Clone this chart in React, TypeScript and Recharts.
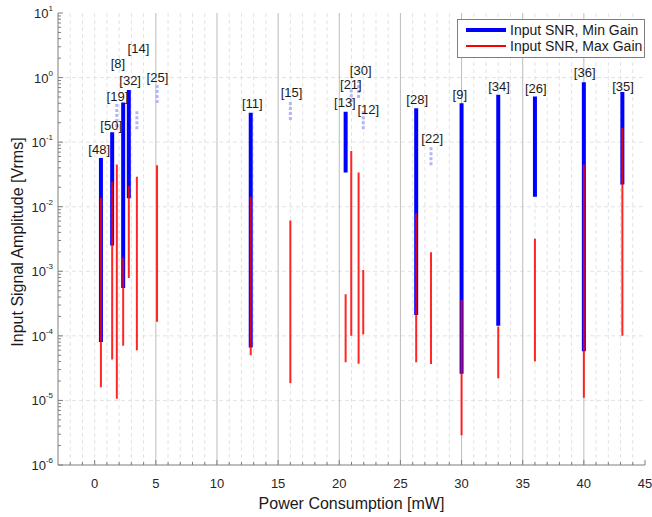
import React from 'react';
import {
  ComposedChart,
  Line,
  Scatter,
  XAxis,
  YAxis,
  CartesianGrid,
  Legend,
} from 'recharts';

const FONT = '"Liberation Sans", Arial, sans-serif';

// axis ticks
const xTicksMajor = [0, 5, 10, 15, 20, 25, 30, 35, 40, 45];
const yTicksMajor = [1e-6, 1e-5, 1e-4, 1e-3, 1e-2, 1e-1, 1, 10];
const yTickLabels = ['-6', '-5', '-4', '-3', '-2', '-1', '0', '1'];

// Input SNR, Min Gain (blue)
const minGainX = [0.51, 1.43, 2.33, 2.79, 12.76, 20.52, 26.29, 30.0, 33.0, 36.0, 40.0, 43.15];
const minGainHi = [0.057, 0.142, 0.41, 0.64, 0.286, 0.296, 0.334, 0.4, 0.54, 0.51, 0.845, 0.6];
const minGainLo = [8e-5, 2.5e-3, 5.5e-4, 0.0135, 6.6e-5, 0.034, 2.1e-4, 2.6e-5, 1.43e-4, 0.0143, 5.8e-5, 0.022];

// Input SNR, Max Gain (red)
const maxGainX = [0.51, 1.43, 1.81, 2.33, 2.79, 3.45, 5.1, 12.76, 16.0, 20.52, 20.98, 21.58, 21.96, 26.29, 27.5, 30.0, 33.0, 36.0, 40.0, 43.15];
const maxGainHi = [0.0136, 0.0244, 0.045, 1.6e-3, 0.021, 0.029, 0.044, 0.0143, 6.1e-3, 4.4e-4, 0.073, 0.034, 1.05e-3, 7.9e-3, 1.97e-3, 3.6e-4, 1.4e-4, 3.2e-3, 0.045, 0.167];
const maxGainLo = [1.6e-5, 4.3e-5, 1.06e-5, 7e-5, 7.9e-4, 6e-5, 1.66e-4, 5e-5, 1.84e-5, 3.9e-5, 1e-4, 3.7e-5, 1.05e-4, 3.9e-5, 3.66e-5, 2.9e-6, 2.2e-5, 4e-5, 1.1e-5, 1e-4];

// estimated min gain ranges (light dashed)
const estX = [1.81, 3.45, 5.1, 16.0, 20.98, 21.58, 21.96, 27.5];
const estHi = [0.39, 0.3, 0.77, 0.42, 0.66, 0.92, 0.3, 0.083];
const estLo = [0.154, 0.154, 0.38, 0.22, 0.42, 0.48, 0.154, 0.042];

// reference labels
const labelText = ['[48]', '[50]', '[19]', '[8]', '[32]', '[14]', '[25]', '[11]', '[15]', '[13]', '[21]', '[30]', '[12]', '[28]', '[22]', '[9]', '[34]', '[26]', '[36]', '[35]'];
const labelX = [0.37, 1.35, 1.86, 1.9, 2.9, 3.58, 5.13, 12.89, 16.1, 20.46, 20.95, 21.75, 22.37, 26.37, 27.6, 29.86, 33.07, 36.07, 40.07, 43.2];
const labelY = [0.078, 0.18, 0.506, 1.66, 0.885, 2.77, 1.01, 0.39, 0.58, 0.41, 0.79, 1.28, 0.326, 0.46, 0.112, 0.55, 0.74, 0.68, 1.19, 0.72];

// vertical segments separated by null gaps
const toSegments = (xs: number[], his: number[], los: number[]) =>
  xs.flatMap((x, i) => [
    { x, y: his[i] },
    { x, y: los[i] },
    { x, y: null },
  ]);

const minGainData = toSegments(minGainX, minGainHi, minGainLo);
const maxGainData = toSegments(maxGainX, maxGainHi, maxGainLo);
const estData = toSegments(estX, estHi, estLo);
const labelData = labelText.map((text, i) => ({ x: labelX[i], y: labelY[i], text }));

// minor ticks / grid
const xTicksAll: number[] = [];
for (let v = -2; v <= 45; v++) xTicksAll.push(v);
const yMinor: number[] = [];
for (let k = -6; k < 1; k++) for (let d = 2; d <= 9; d++) yMinor.push(d * Math.pow(10, k));
const yTicksAll = [...yTicksMajor, ...yMinor].sort((a, b) => a - b);
const isDecade = (v: number) => Math.abs(Math.log10(v) - Math.round(Math.log10(v))) < 1e-6;

const AXIS = '#7f7f7f';

const BottomTick = ({ x, y, payload }: any) => {
  const major = xTicksMajor.includes(payload.value);
  return (
    <g>
      <line x1={x} x2={x} y1={y} y2={y - (major ? 5 : 3)} stroke={AXIS} />
      {major && (
        <text x={x} y={y + 23} textAnchor="middle" fontSize={13} fontFamily={FONT} fill="#262626">
          {payload.value}
        </text>
      )}
    </g>
  );
};

const TopTick = ({ x, y, payload }: any) => {
  const major = xTicksMajor.includes(payload.value);
  return <line x1={x} x2={x} y1={y} y2={y + (major ? 5 : 3)} stroke={AXIS} />;
};

const LeftTick = ({ x, y, payload }: any) => {
  const major = isDecade(payload.value);
  const idx = yTicksMajor.findIndex((v) => Math.abs(v - payload.value) / v < 1e-6);
  return (
    <g>
      <line x1={x} x2={x + (major ? 5 : 3)} y1={y} y2={y} stroke={AXIS} />
      {major && idx >= 0 && (
        <text x={x - 5} y={y + 5} textAnchor="end" fontSize={13} fontFamily={FONT} fill="#262626">
          <tspan>10</tspan>
          <tspan dy={-7} fontSize={8}>{yTickLabels[idx]}</tspan>
        </text>
      )}
    </g>
  );
};

const RightTick = ({ x, y, payload }: any) => {
  const major = isDecade(payload.value);
  return <line x1={x} x2={x - (major ? 5 : 3)} y1={y} y2={y} stroke={AXIS} />;
};

const LabelShape = (p: any) => (
  <text
    x={p.cx}
    y={p.cy}
    textAnchor="middle"
    dominantBaseline="central"
    fontSize={13}
    fontFamily={FONT}
    fill="#1a1a1a"
  >
    {p.payload.text}
  </text>
);

const LegendBox = () => (
  <div
    style={{
      width: 186,
      height: 37,
      border: `1px solid ${AXIS}`,
      background: '#fff',
      position: 'relative',
      fontFamily: FONT,
      fontSize: 14,
      color: '#1a1a1a',
    }}
  >
    {[
      { name: 'Input SNR, Min Gain', color: '#0000ff', w: 4 },
      { name: 'Input SNR, Max Gain', color: '#ff0000', w: 2 },
    ].map((it, i) => (
      <div key={it.name} style={{ position: 'absolute', left: 0, top: 2 + i * 16, height: 16, width: 186 }}>
        <svg width={50} height={16} style={{ position: 'absolute', left: 0, top: 0 }}>
          <line x1={8} x2={48} y1={8} y2={8} stroke={it.color} strokeWidth={it.w} />
        </svg>
        <span style={{ position: 'absolute', left: 52, top: 0, lineHeight: '16px', whiteSpace: 'nowrap' }}>
          {it.name}
        </span>
      </div>
    ))}
  </div>
);

export default function App() {
  return (
    <div style={{ position: 'absolute', left: 0, top: 0, width: 652, height: 517, background: '#fff' }}>
      <ComposedChart width={652} height={517} margin={{ top: 13, right: 7, bottom: 0, left: 0 }}>
        <CartesianGrid
          verticalValues={xTicksAll.filter((v) => v % 5 !== 0 || v === 0)}
          horizontalValues={[1e-5, 1e-4, 1e-3, 1e-2, 1e-1, 1]}
          stroke="#e3e3e3"
          strokeDasharray="4 3"
        />
        <CartesianGrid
          verticalValues={[5, 10, 15, 20, 25, 30, 35, 40]}
          horizontal={false}
          stroke="#bcbcbc"
        />
        <XAxis
          dataKey="x"
          type="number"
          domain={[-3, 45]}
          allowDataOverflow
          ticks={xTicksAll}
          interval={0}
          tick={<BottomTick />}
          tickLine={false}
          tickSize={0}
          tickMargin={0}
          height={52}
          axisLine={{ stroke: AXIS }}
          label={{
            value: 'Power Consumption [mW]',
            position: 'insideBottom',
            offset: 8,
            fontSize: 16,
            fontFamily: FONT,
            fill: '#1a1a1a',
          }}
        />
        <XAxis
          xAxisId="top"
          orientation="top"
          type="number"
          domain={[-3, 45]}
          allowDataOverflow
          ticks={xTicksAll}
          interval={0}
          tick={<TopTick />}
          tickLine={false}
          tickSize={0}
          tickMargin={0}
          height={0}
          axisLine={{ stroke: AXIS }}
        />
        <YAxis
          dataKey="y"
          type="number"
          scale="log"
          domain={[1e-6, 10]}
          allowDataOverflow
          ticks={yTicksAll}
          interval={0}
          tick={<LeftTick />}
          tickLine={false}
          tickSize={0}
          tickMargin={0}
          width={58}
          axisLine={{ stroke: AXIS }}
          label={{
            value: 'Input Signal Amplitude [Vrms]',
            angle: -90,
            position: 'insideLeft',
            offset: 17,
            dy: 3,
            fontSize: 16,
            fontFamily: FONT,
            fill: '#1a1a1a',
            style: { textAnchor: 'middle' },
          }}
        />
        <YAxis
          yAxisId="right"
          orientation="right"
          type="number"
          scale="log"
          domain={[1e-6, 10]}
          allowDataOverflow
          ticks={yTicksAll}
          interval={0}
          tick={<RightTick />}
          tickLine={false}
          tickSize={0}
          tickMargin={0}
          width={0}
          axisLine={{ stroke: AXIS }}
        />
        <Legend
          layout="vertical"
          align="center"
          verticalAlign="middle"
          content={<LegendBox />}
          wrapperStyle={{ left: 457, top: 19, width: 188, height: 39 }}
        />
        <Line
          data={estData}
          dataKey="y"
          stroke="#b4b4fa"
          strokeWidth={3}
          strokeDasharray="3 2"
          dot={false}
          activeDot={false}
          legendType="none"
          isAnimationActive={false}
        />
        <Line
          data={minGainData}
          dataKey="y"
          name="Input SNR, Min Gain"
          stroke="#0000ff"
          strokeWidth={4}
          dot={false}
          activeDot={false}
          isAnimationActive={false}
        />
        <Line
          data={maxGainData}
          dataKey="y"
          name="Input SNR, Max Gain"
          stroke="#ff0000"
          strokeOpacity={0.85}
          strokeWidth={2}
          dot={false}
          activeDot={false}
          isAnimationActive={false}
        />
        <Scatter
          data={labelData}
          dataKey="y"
          shape={LabelShape}
          legendType="none"
          isAnimationActive={false}
        />
      </ComposedChart>
    </div>
  );
}
